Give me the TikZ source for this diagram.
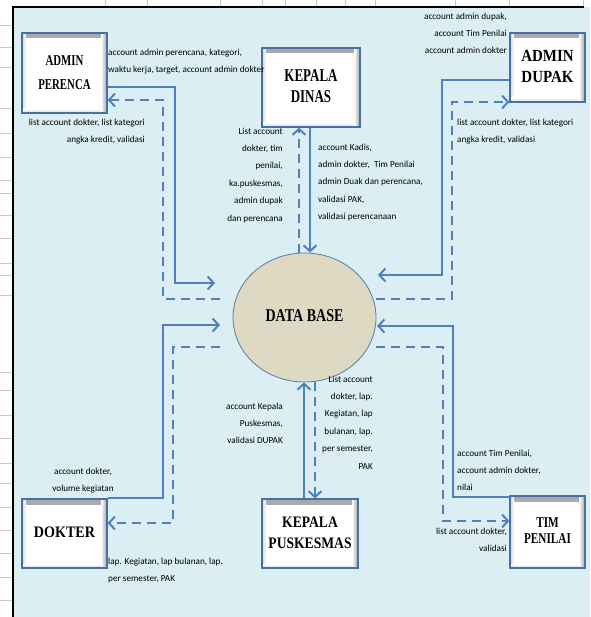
\documentclass[tikz,border=0pt]{standalone}
\usepackage{fontspec}
\setmainfont{Carlito}
\newfontfamily\titlefont{Liberation Serif}
\usetikzlibrary{arrows.meta,shapes.geometric}
\definecolor{panel}{HTML}{DAEEF3}
\definecolor{flowc}{HTML}{4F81BD}
\definecolor{boxc}{HTML}{4A6FA5}
\definecolor{dbfill}{HTML}{DDD9C3}
\definecolor{dbline}{HTML}{5A7BA8}
\newcommand\boxtitle[4]{{\titlefont\bfseries\fontsize{#1}{#2}\selectfont\scalebox{#3}[1]{\begin{tabular}{@{}c@{}}#4\end{tabular}}}}
\tikzset{
  box/.style={draw=boxc, line width=1.2pt, fill=white, inner sep=0pt,
    path picture={
      \fill[top color=black!35, bottom color=white] (path picture bounding box.north west) rectangle ([yshift=-5pt]path picture bounding box.north east);
      \fill[left color=black!18, right color=white] (path picture bounding box.north west) rectangle ([xshift=4pt]path picture bounding box.south west);
      \fill[top color=white, bottom color=black!18] ([yshift=4pt]path picture bounding box.south west) rectangle (path picture bounding box.south east);
      \fill[left color=white, right color=black!38] ([xshift=-6pt]path picture bounding box.north east) rectangle (path picture bounding box.south east);
    }},
  lbl/.style={font=\fontsize{9.2}{17.4}\selectfont, inner sep=0pt, text=black},
  flow/.style={draw=flowc, line width=2pt, -{Straight Barb[length=6pt,width=13pt]}},
  dflow/.style={flow, dash pattern=on 9pt off 6pt},
  tick/.style={draw=gray!45, line width=0.6pt}
}
\begin{document}
\begin{tikzpicture}[x=1pt,y=-1pt]
\useasboundingbox (0,0) rectangle (590,617);
\fill[white] (0,0) rectangle (590,617);
% spreadsheet ticks
\foreach \x in {105,147,220,262,285,316,345,375,455,509,583}
  \draw[tick] (\x,0) -- (\x,6);
\foreach \y in {25,47,67,108,133,157,180,193,215,238,263,275,295,372,390,415,438,463,483,507,530,553,577,600}
  \draw[tick] (0,\y) -- (12,\y);
% panel
\fill[panel] (13,7) rectangle (590,617);
\draw[black, line width=1.6pt] (13,617) -- (13,7) -- (584,7);

% nodes
\node[box, minimum width=85, minimum height=80] (ap) at (64.5,73) {\boxtitle{15}{24}{0.72}{ADMIN\\PERENCA}};
\node[box, minimum width=98, minimum height=79] (kd) at (311,87.5) {\boxtitle{18}{21}{0.72}{KEPALA\\DINAS}};
\node[box, minimum width=75, minimum height=69] (ad) at (547.5,67.5) {\boxtitle{17}{21}{0.88}{ADMIN\\DUPAK}};
\node[box, minimum width=85, minimum height=69] (dk) at (64.5,533.5) {\boxtitle{16}{20}{0.88}{DOKTER}};
\node[box, minimum width=96, minimum height=69] (kp) at (310,533.5) {\boxtitle{16}{21}{0.85}{KEPALA\\PUSKESMAS}};
\node[box, minimum width=75, minimum height=72] (tp) at (547.5,532) {\boxtitle{15}{16}{0.75}{TIM\\PENILAI}};
\node[ellipse, draw=dbline, line width=0.8pt, fill=dbfill, minimum width=143, minimum height=129, inner sep=0pt] (db) at (304.5,317.5) {\boxtitle{18}{20}{0.78}{DATA BASE}};

% free ends and corners
\coordinate (p1) at (175,283); \coordinate (p1e) at (215,283);
\coordinate (q1s) at (220,299); \coordinate (q1c) at (163,100);
\coordinate (r1) at (442,275); \coordinate (r1e) at (378,275);
\coordinate (s1s) at (376,299); \coordinate (s1c) at (452,102);
\coordinate (t1) at (163,325); \coordinate (t1e) at (220,325);
\coordinate (u1s) at (220,347); \coordinate (u1c) at (173,523);
\coordinate (v1) at (453,326); \coordinate (v1e) at (377,326);
\coordinate (w1s) at (376,347); \coordinate (w1c) at (443,521);

% connectors
\draw[flow] ([yshift=-14pt]ap.east) -| (p1) -- (p1e);
\draw[dflow] (q1s) -| (q1c) -- ([yshift=-27pt]ap.east);
\draw[flow] ([xshift=-1pt]kd.south) -- ([xshift=-1pt]kd.south |- db.north);
\draw[dflow] ([xshift=-12pt]kd.south |- db.north) -- ([xshift=-12pt]kd.south);
\draw[flow] ([yshift=-12.5pt]ad.west) -| (r1) -- (r1e);
\draw[dflow] (s1s) -| (s1c) -- ([yshift=-34.5pt]ad.west);
\draw[flow] (dk.north east) -| (t1) -- (t1e);
\draw[dflow] (u1s) -| (u1c) -- ([yshift=10.5pt]dk.east);
\draw[flow] ([xshift=-6pt]kp.north) -- ([xshift=-6pt]kp.north |- db.south);
\draw[dflow] ([xshift=5pt]kp.north |- db.south) -- ([xshift=5pt]kp.north);
\draw[flow] ([yshift=-2pt]tp.north west) -| (v1) -- (v1e);
\draw[dflow] (w1s) -| (w1c) -- ([yshift=11pt]tp.west);

% labels
\node[lbl, anchor=north west, align=left] (l1) at (108,48.5) {account admin perencana, kategori,\\waktu kerja, target, account admin dokter};
\node[lbl, anchor=north east, align=right] (l2) at (145,118.5) {list account dokter, list kategori\\angka kredit, validasi};
\node[lbl, anchor=north east, align=right] (l3) at (283,127.5) {List account\\dokter, tim\\penilai,\\ka.puskesmas,\\admin dupak\\dan perencana};
\node[lbl, anchor=north west, align=left] (l4) at (318,143.5) {account Kadis,\\admin dokter,~~Tim Penilai\\admin Duak dan perencana,\\validasi PAK,\\validasi perencanaan};
\node[lbl, anchor=north east, align=right] (l5) at (507,12.5) {account admin dupak,\\account Tim Penilai\\account admin dokter};
\node[lbl, anchor=north west, align=left] (l6) at (457,118.5) {list account dokter, list kategori\\angka kredit, validasi};
\node[lbl, anchor=north east, align=right] (l7) at (283,402.5) {account Kepala\\Puskesmas,\\validasi DUPAK};
\node[lbl, anchor=north east, align=right] (l8) at (373,375.5) {List account\\dokter, lap.\\Kegiatan, lap\\bulanan, lap.\\per semester,\\PAK};
\node[lbl, anchor=north, align=center] (l9) at (83,467.5) {account dokter,\\volume kegiatan};
\node[lbl, anchor=north west, align=left] (l10) at (108,557.5) {lap. Kegiatan, lap bulanan, lap.\\per semester, PAK};
\node[lbl, anchor=north west, align=left] (l11) at (457,449.5) {account Tim Penilai,\\account admin dokter,\\nilai};
\node[lbl, anchor=north east, align=right] (l12) at (507,527.5) {list account dokter,\\validasi};
\end{tikzpicture}
\end{document}
